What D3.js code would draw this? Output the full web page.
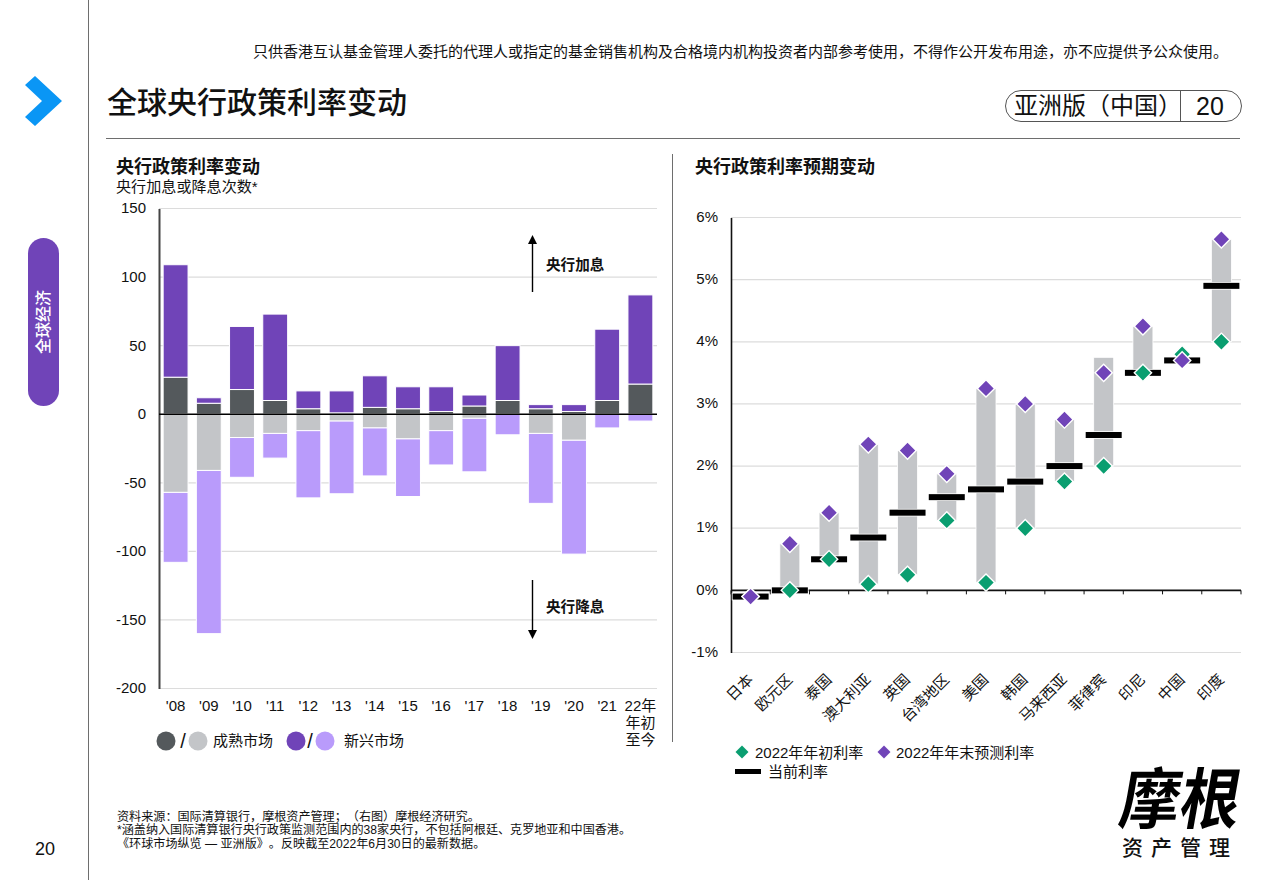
<!DOCTYPE html>
<html>
<head>
<meta charset="utf-8">
<script src="https://cdn.jsdelivr.net/npm/d3@7"></script>
<style>
  html, body { margin: 0; padding: 0; background: #fff; }
  svg { display: block; }
  text { font-family: "Liberation Sans", "Noto Sans CJK SC", sans-serif; fill: #111; text-spacing-trim: space-all; }
</style>
</head>
<body>
<svg id="page" width="1270" height="880"></svg>
<script>
// Central bank policy moves, counted per year
const years = ["'08","'09","'10","'11","'12","'13","'14","'15","'16","'17","'18","'19","'20","'21","22年"];
const dmHikes = [27, 8, 18, 10, 4, 1, 5, 4, 2, 6, 10, 4, 2, 10, 22];
const emHikes = [82, 4, 46, 63, 13, 16, 23, 16, 18, 8, 40, 3, 5, 52, 65];
const dmCuts = [-57, -41, -17, -14, -12, -5, -10, -18, -12, -3, 0, -14, -19, 0, 0];
const emCuts = [-51, -119, -29, -18, -49, -53, -35, -42, -25, -39, -15, -51, -83, -10, -5];
const moveTicks = [150, 100, 50, 0, -50, -100, -150, -200];

// Expected policy rates per economy, in percent
const economies = ["日本","欧元区","泰国","澳大利亚","英国","台湾地区","美国","韩国","马来西亚","菲律宾","印尼","中国","印度"];
const rateStart = [-0.1, 0, 0.5, 0.1, 0.25, 1.125, 0.125, 1, 1.75, 2, 3.5, 3.8, 4];
const rateYearEnd = [-0.1, 0.75, 1.25, 2.35, 2.25, 1.875, 3.25, 3, 2.75, 3.5, 4.25, 3.7, 5.65];
const rateCurrent = [-0.1, 0, 0.5, 0.85, 1.25, 1.5, 1.625, 1.75, 2, 2.5, 3.5, 3.7, 4.9];
const rangeLow = [-0.1, 0, 0.5, 0.1, 0.25, 1.125, 0.125, 1, 1.75, 2, 3.5, 3.7, 4];
const rangeHigh = [-0.1, 0.75, 1.25, 2.35, 2.25, 1.875, 3.25, 3, 2.75, 3.75, 4.25, 3.8, 5.65];
const rateTicks = [6, 5, 4, 3, 2, 1, 0, -1];

const colors = { dmUp: "#54595c", dmDown: "#c3c5c8", emUp: "#7044b8", emDown: "#b99bfb", green: "#0a9e70", blue: "#0a96f5", grid: "#dcdcdc", line: "#6e6e6e" };

const svg = d3.select("#page");

function label(parent, x, y, str, size, opts = {}) {
  return parent.append("text").attr("x", x).attr("y", y).text(str)
    .attr("font-size", size)
    .attr("font-weight", opts.weight || 400)
    .attr("text-anchor", opts.anchor || "start");
}

// Page furniture
svg.append("line").attr("x1", 88.5).attr("x2", 88.5).attr("y1", 0).attr("y2", 880).attr("stroke", colors.line);
svg.append("path").attr("d", "M25,85 L35,76 L62,101 L35,126 L25,117 L42,101 Z").attr("fill", colors.blue);
svg.append("rect").attr("x", 28).attr("y", 238).attr("width", 31).attr("height", 168).attr("rx", 15.5).attr("fill", colors.emUp);
label(svg, 0, 0, "全球经济", 16, { anchor: "middle", weight: 500 })
  .attr("transform", "translate(49,322) rotate(-90)").style("fill", "#fff");
label(svg, 45, 855, "20", 18, { anchor: "middle" });

label(svg, 1228, 57, "只供香港互认基金管理人委托的代理人或指定的基金销售机构及合格境内机构投资者内部参考使用，不得作公开发布用途，亦不应提供予公众使用。", 15, { anchor: "end" });
label(svg, 107, 113, "全球央行政策利率变动", 30, { weight: 500 });
svg.append("line").attr("x1", 106).attr("x2", 1240).attr("y1", 138.5).attr("y2", 138.5).attr("stroke", colors.line);

svg.append("rect").attr("x", 1005.5).attr("y", 90.5).attr("width", 236).attr("height", 31).attr("rx", 15.5).attr("fill", "none").attr("stroke", "#555");
svg.append("line").attr("x1", 1180.5).attr("x2", 1180.5).attr("y1", 91).attr("y2", 121).attr("stroke", "#555");
label(svg, 1014, 114, "亚洲版（中国）", 24);
label(svg, 1210, 115, "20", 25, { anchor: "middle" });

svg.append("line").attr("x1", 672.5).attr("x2", 672.5).attr("y1", 154).attr("y2", 742).attr("stroke", colors.line);

// Left panel: count of hikes and cuts
label(svg, 116, 173, "央行政策利率变动", 18, { weight: 700 });
label(svg, 116, 192, "央行加息或降息次数*", 15.1);

const moveX = d3.scaleBand().domain(years).range([159, 657]).paddingInner(0.25).paddingOuter(0.125);
const moveY = d3.scaleLinear().domain([-200, 150]).range([688.5, 208.5]);

const left = svg.append("g");
left.append("g").selectAll("line").data(moveTicks.filter(d => d !== 0)).join("line")
  .attr("x1", 159).attr("x2", 657).attr("y1", d => moveY(d)).attr("y2", d => moveY(d))
  .attr("stroke", colors.grid).attr("stroke-width", 1.2);

const moveRows = years.map((y, i) => ({ year: y, dmUp: dmHikes[i], emUp: emHikes[i], dmDown: dmCuts[i], emDown: emCuts[i] }));
const stacked = d3.stack().keys(["dmUp", "emUp", "dmDown", "emDown"]).offset(d3.stackOffsetDiverging)(moveRows);

left.append("g").selectAll("g").data(stacked).join("g")
  .attr("fill", s => colors[s.key])
  .selectAll("rect").data(s => s.filter(p => p[1] !== p[0])).join("rect")
  .attr("x", p => moveX(p.data.year))
  .attr("width", moveX.bandwidth())
  .attr("y", p => moveY(p[1]))
  .attr("height", p => moveY(p[0]) - moveY(p[1]))
  .attr("stroke", "#fff").attr("stroke-width", 1);

const moveAxis = left.append("g").attr("transform", "translate(159,0)")
  .call(d3.axisLeft(moveY).tickValues(moveTicks).tickFormat(d => String(d)).tickSize(0).tickPadding(13));
moveAxis.select(".domain").attr("stroke", "#444").attr("stroke-width", 2);
moveAxis.selectAll("text").attr("font-size", 15).attr("dy", "0.29em");

left.append("line").attr("x1", 159).attr("x2", 657).attr("y1", moveY(0)).attr("y2", moveY(0)).attr("stroke", "#000").attr("stroke-width", 1.6);

left.append("g").selectAll("text").data(years).join("text")
  .attr("x", d => moveX(d) + moveX.bandwidth() / 2).attr("y", 711)
  .attr("text-anchor", "middle").attr("font-size", 15).text(d => d);
label(left, moveX(years[14]) + moveX.bandwidth() / 2, 728, "年初", 15, { anchor: "middle" });
label(left, moveX(years[14]) + moveX.bandwidth() / 2, 745, "至今", 15, { anchor: "middle" });

// Direction arrows
const arrows = [
  { x: 532.5, from: 292, to: 244, tip: 235, text: "央行加息", ty: 270 },
  { x: 532.5, from: 580, to: 630, tip: 639, text: "央行降息", ty: 612 }
];
arrows.forEach(a => {
  left.append("line").attr("x1", a.x).attr("x2", a.x).attr("y1", a.from).attr("y2", a.to).attr("stroke", "#000").attr("stroke-width", 1.4);
  left.append("path").attr("d", `M${a.x - 4.5},${a.to} L${a.x + 4.5},${a.to} L${a.x},${a.tip} Z`).attr("fill", "#000");
  label(left, 546, a.ty, a.text, 14.6, { weight: 700 });
});

// Left legend
[[166, colors.dmUp], [198, colors.dmDown], [296, colors.emUp], [325, colors.emDown]].forEach(([cx, fill]) => {
  left.append("circle").attr("cx", cx).attr("cy", 741).attr("r", 9.5).attr("fill", fill);
});
label(left, 183, 748, "/", 20, { anchor: "middle" });
label(left, 310, 748, "/", 20, { anchor: "middle" });
label(left, 213, 746, "成熟市场", 15);
label(left, 344, 746, "新兴市场", 15);

// Right panel: policy rate paths
label(svg, 695, 173, "央行政策利率预期变动", 18, { weight: 700 });

const rateX = d3.scaleBand().domain(economies).range([731, 1241]);
const rateY = d3.scaleLinear().domain([-1, 6]).range([652.5, 217.5]);
const right = svg.append("g");

right.append("g").selectAll("line").data(rateTicks.filter(d => d !== 0)).join("line")
  .attr("x1", 731).attr("x2", 1241).attr("y1", d => rateY(d)).attr("y2", d => rateY(d))
  .attr("stroke", colors.grid).attr("stroke-width", 1.2);

const rateAxis = right.append("g").attr("transform", "translate(731,0)")
  .call(d3.axisLeft(rateY).tickValues(rateTicks).tickFormat(d => d + "%").tickSize(0).tickPadding(13));
rateAxis.select(".domain").attr("stroke", "#111").attr("stroke-width", 1.6);
rateAxis.selectAll("text").attr("font-size", 15).attr("dy", "0.25em");

// Zero baseline with a tick at each band edge
right.append("line").attr("x1", 731).attr("x2", 1241).attr("y1", rateY(0)).attr("y2", rateY(0)).attr("stroke", "#111").attr("stroke-width", 1.6);
right.append("g").selectAll("line").data(economies.concat("end")).join("line")
  .attr("x1", (d, i) => 731 + i * rateX.step()).attr("x2", (d, i) => 731 + i * rateX.step())
  .attr("y1", rateY(0)).attr("y2", rateY(0) + 4).attr("stroke", "#111");

const rateRows = economies.map((e, i) => ({ e, low: rangeLow[i], high: rangeHigh[i], start: rateStart[i], end: rateYearEnd[i], now: rateCurrent[i] }));
const cx = d => rateX(d.e) + rateX.bandwidth() / 2;

right.append("g").selectAll("rect").data(rateRows.filter(d => !["中国", "日本"].includes(d.e))).join("rect")
  .attr("x", d => cx(d) - 10).attr("width", 20)
  .attr("y", d => rateY(d.high)).attr("height", d => rateY(d.low) - rateY(d.high))
  .attr("fill", colors.dmDown).attr("stroke", "#fff").attr("stroke-width", 0.8);

right.append("g").selectAll("rect").data(rateRows).join("rect")
  .attr("x", d => cx(d) - 18).attr("width", 36)
  .attr("y", d => rateY(d.now) - 3).attr("height", 6)
  .attr("fill", "#000").attr("stroke", "#fff").attr("stroke-width", 1.6).attr("paint-order", "stroke");

const diamond = d3.symbol().type(d3.symbolSquare).size(150);
function diamonds(key, fill) {
  right.append("g").selectAll("path").data(rateRows).join("path")
    .attr("d", diamond)
    .attr("transform", d => `translate(${cx(d)},${rateY(d[key])}) rotate(45)`)
    .attr("fill", fill).attr("stroke", "#fff").attr("stroke-width", 1.4);
}
diamonds("start", colors.green);
diamonds("end", colors.emUp);

right.append("g").selectAll("text").data(economies).join("text")
  .attr("transform", d => `translate(${rateX(d) + rateX.bandwidth() / 2 - 4},${673}) rotate(-45)`)
  .attr("text-anchor", "end").attr("dy", "0.7em").attr("font-size", 15).text(d => d);

// Right legend
const keyMark = d3.symbol().type(d3.symbolSquare).size(84);
right.append("path").attr("d", keyMark).attr("transform", "translate(742,752) rotate(45)").attr("fill", colors.green);
right.append("path").attr("d", keyMark).attr("transform", "translate(884,752) rotate(45)").attr("fill", colors.emUp);
label(right, 755, 758, "2022年年初利率", 15);
label(right, 896, 758, "2022年年末预测利率", 15);
right.append("rect").attr("x", 735).attr("y", 769).attr("width", 26).attr("height", 5).attr("fill", "#000");
label(right, 768, 777, "当前利率", 15);

// Sources
label(svg, 117, 821, "资料来源：国际清算银行，摩根资产管理；（右图）摩根经济研究。", 12.1);
label(svg, 117, 834, "*涵盖纳入国际清算银行央行政策监测范围内的38家央行，不包括阿根廷、克罗地亚和中国香港。", 12.1);
label(svg, 117, 848, "《环球市场纵览 — 亚洲版》。反映截至2022年6月30日的最新数据。", 12.1);

// Brand mark
label(svg, 0, 0, "摩根", 60, { weight: 700 })
  .attr("transform", "translate(1117,823) skewX(-10) scale(1,1.1)").style("fill", "#000");
label(svg, 1122, 855, "资产管理", 21, { weight: 500 }).attr("letter-spacing", 8);
</script>
</body>
</html>
